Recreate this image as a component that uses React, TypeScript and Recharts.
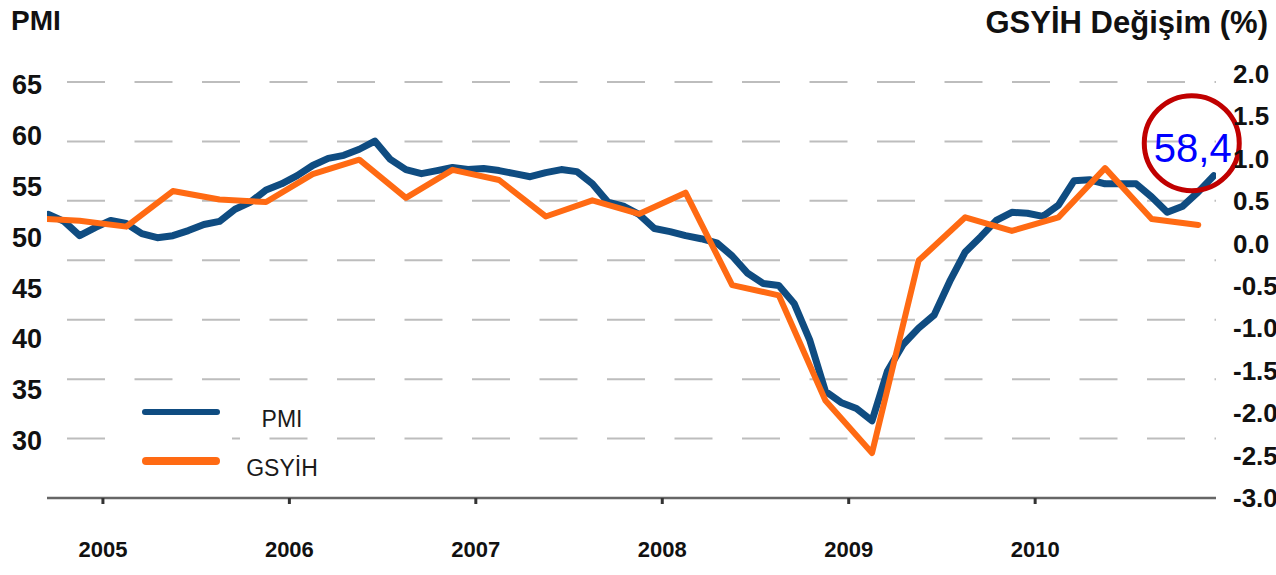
import { LineChart, Line, XAxis, YAxis, CartesianGrid, Legend, ReferenceDot } from 'recharts';

const FONT = '"Liberation Sans", Arial, Helvetica, sans-serif';

// PMI, monthly from Sep 2004 to Dec 2010
const pmiStart = { year: 2004, month: 8 };
const pmiValues = [
  52.2, 51.5, 50.1, 50.9, 51.6, 51.3, 50.3, 49.9, 50.1, 50.6, 51.2, 51.5,
  52.7, 53.4, 54.6, 55.2, 56.0, 57.0, 57.7, 58.0, 58.6, 59.4, 57.6, 56.6,
  56.2, 56.5, 56.8, 56.6, 56.7, 56.5, 56.2, 55.9, 56.3, 56.6, 56.4, 55.2,
  53.4, 53.0, 52.2, 50.8, 50.5, 50.1, 49.8, 49.4, 48.1, 46.4, 45.4, 45.2,
  43.4, 39.8, 34.8, 33.7, 33.1, 31.9, 36.8, 39.4, 41.0, 42.3, 45.6, 48.5,
  50.0, 51.6, 52.4, 52.3, 52.0, 53.1, 55.5, 55.6, 55.2, 55.2, 55.2, 53.9,
  52.4, 53.0, 54.4, 56.0,
];

// GSYİH quarterly change (%), Q3 2004 to Q4 2010
const gdpStart = { year: 2004, quarter: 2 };
const gdpValues = [
  0.30, 0.27, 0.20, 0.62, 0.52, 0.49, 0.82, 0.99, 0.54, 0.87, 0.75, 0.32, 0.51,
  0.35, 0.60, -0.49, -0.61, -1.85, -2.47, -0.20, 0.31, 0.15, 0.31, 0.89, 0.29, 0.22,
];

const yearTicks = [2005, 2006, 2007, 2008, 2009, 2010];
const pmiTicks = [30, 35, 40, 45, 50, 55, 60, 65];
const gdpTicks = [-3, -2.5, -2, -1.5, -1, -0.5, 0, 0.5, 1, 1.5, 2];
const gridTicks = [1, 2, 3, 4, 5, 6, 7];
const legendOrder = ['PMI', 'GSYİH'];

const callout = { t: 2010.84, pmi: 59.2, label: '58,4' };

const pmiData = pmiValues.map((v, i) => ({ t: pmiStart.year + (pmiStart.month + i + 0.5) / 12, pmi: v }));
const gdpData = gdpValues.map((v, i) => ({ t: gdpStart.year + (gdpStart.quarter + i) * 0.25 + 0.125, gdp: v }));

const YearTick = ({ x, y, payload }: any) => (
  <text x={x} y={y + 51} textAnchor="middle" fontSize={22} fontWeight="bold" fill="#111" fontFamily={FONT}>
    {payload.value}
  </text>
);

const PmiTick = ({ x, y, payload }: any) => (
  <text x={x} y={y + 10} textAnchor="end" fontSize={27} fontWeight="bold" fill="#111" fontFamily={FONT}>
    {payload.value}
  </text>
);

const GdpTick = ({ x, y, payload }: any) => (
  <text x={x} y={y + 9} textAnchor="start" fontSize={26} fontWeight="bold" fill="#111" fontFamily={FONT}>
    {payload.value.toFixed(1)}
  </text>
);

const renderLegend = (props: any) => {
  const items = [...(props.payload || [])].sort(
    (a: any, b: any) => legendOrder.indexOf(a.value) - legendOrder.indexOf(b.value)
  );
  return (
    <div style={{ position: 'relative', width: 230, height: 96, fontFamily: FONT }}>
      <div style={{ position: 'absolute', left: 0, top: 0, width: 120, height: 96, background: '#fff' }} />
      {items.map((p: any, i: number) => (
        <div key={p.value}>
          <div
            style={{
              position: 'absolute', left: 30, top: 20 + i * 49 - (i ? 4 : 3), width: 78,
              height: i ? 8 : 6, borderRadius: 4, background: p.color,
            }}
          />
          <div
            style={{
              position: 'absolute', left: 108, top: 14 + i * 49, width: 124, textAlign: 'center',
              fontSize: 23, lineHeight: '26px', color: '#1a1a1a',
            }}
          >
            {p.value}
          </div>
        </div>
      ))}
    </div>
  );
};

const Callout = ({ cx, cy }: any) => (
  <g>
    <circle cx={cx} cy={cy} r={47.5} fill="none" stroke="#c00000" strokeWidth={5} />
    <text x={cx + 1} y={cy + 19} textAnchor="middle" fontSize={40} fill="#0000ff" fontFamily={FONT}>
      {callout.label}
    </text>
  </g>
);

export default function App() {
  return (
    <div style={{ position: 'relative', width: 1276, height: 575, background: '#fff', fontFamily: FONT }}>
      <style>{'body{margin:0}'}</style>
      <div style={{ position: 'absolute', left: 11, top: 5, fontSize: 28, fontWeight: 'bold', color: '#111' }}>PMI</div>
      <div style={{ position: 'absolute', right: 8, top: 5, fontSize: 31, fontWeight: 'bold', color: '#111', whiteSpace: 'nowrap' }}>
        GSYİH Değişim (%)
      </div>
      <div style={{ position: 'absolute', left: 0, top: 0 }}>
        <LineChart width={1276} height={575} margin={{ top: 74, right: 0, bottom: 0, left: 0 }}>
          <CartesianGrid
            yAxisId="grid"
            vertical={false}
            syncWithTicks
            stroke="#bdbdbd"
            strokeWidth={2}
            strokeDasharray="0 20 38 9.5"
          />
          <XAxis
            type="number"
            dataKey="t"
            domain={[2004.7, 2010.97]}
            ticks={yearTicks}
            allowDataOverflow
            height={77}
            stroke="#666"
            strokeWidth={2.5}
            tickLine={{ stroke: '#333', strokeWidth: 3 }}
            tickSize={6}
            tick={<YearTick />}
          />
          <YAxis
            yAxisId="left"
            width={47}
            domain={[24.3, 66]}
            ticks={pmiTicks}
            allowDataOverflow
            axisLine={false}
            tickLine={false}
            tickSize={0}
            tickMargin={5}
            tick={<PmiTick />}
          />
          <YAxis
            yAxisId="right"
            orientation="right"
            width={60}
            domain={[-3, 2]}
            ticks={gdpTicks}
            allowDataOverflow
            axisLine={false}
            tickLine={false}
            tickSize={0}
            tickMargin={17}
            tick={<GdpTick />}
          />
          <YAxis yAxisId="grid" orientation="right" hide width={0} domain={[0, 7.135]} ticks={gridTicks} allowDataOverflow />
          <Legend
            layout="horizontal"
            verticalAlign="middle"
            align="center"
            content={renderLegend}
            wrapperStyle={{ position: 'absolute', left: 112, top: 392, width: 230, height: 96 }}
          />
          <Line
            data={pmiData}
            yAxisId="left"
            dataKey="pmi"
            name="PMI"
            type="linear"
            stroke="#0f4c81"
            strokeWidth={7}
            strokeLinejoin="round"
            strokeLinecap="round"
            dot={false}
            activeDot={false}
            isAnimationActive={false}
          />
          <Line
            data={gdpData}
            yAxisId="right"
            dataKey="gdp"
            name="GSYİH"
            type="linear"
            stroke="#ff6a13"
            strokeWidth={6}
            strokeLinejoin="round"
            strokeLinecap="round"
            dot={false}
            activeDot={false}
            isAnimationActive={false}
          />
          <ReferenceDot
            yAxisId="left"
            x={callout.t}
            y={callout.pmi}
            ifOverflow="visible"
            shape={<Callout />}
          />
        </LineChart>
      </div>
    </div>
  );
}
